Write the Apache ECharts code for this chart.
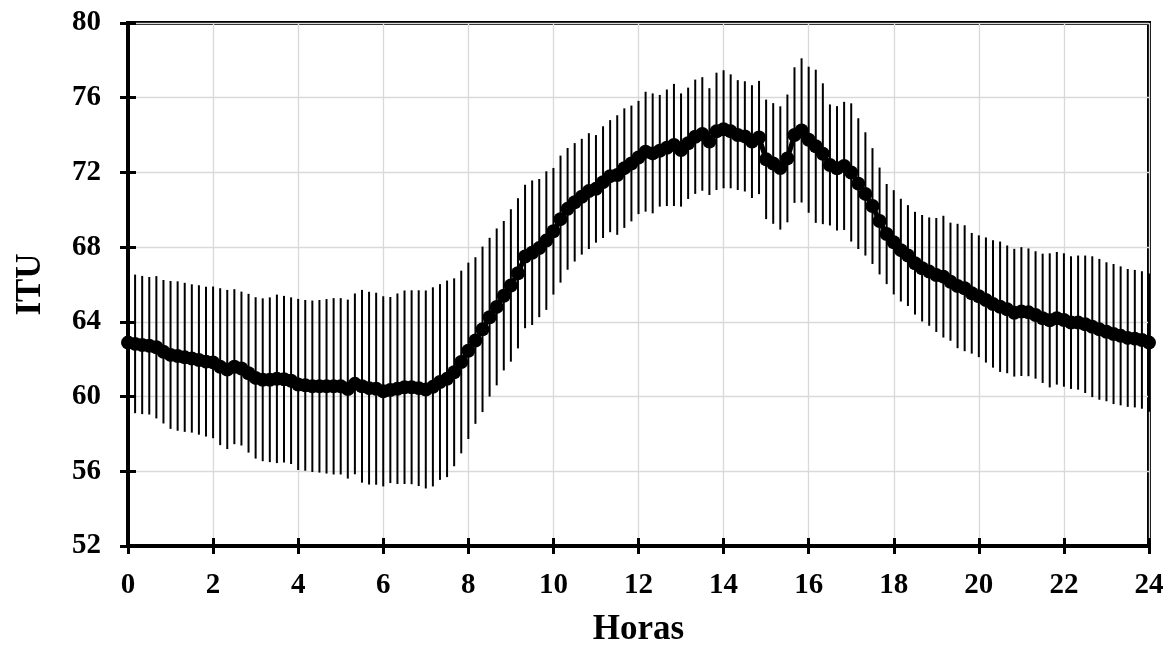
<!DOCTYPE html>
<html>
<head>
<meta charset="utf-8">
<script src="https://cdn.jsdelivr.net/npm/echarts@6/dist/echarts.min.js"></script>
<style>
html,body{margin:0;padding:0;background:#fff;}
#chart{width:1176px;height:655px;}
</style>
</head>
<body>
<div id="chart"></div>
<script>
// Hours (10-minute steps, 0..24)
const STEPS_PER_HOUR = 6;
const ituMean = [
62.89,62.82,62.76,62.72,62.64,62.40,62.23,62.17,62.10,62.04,
61.96,61.87,61.83,61.60,61.45,61.60,61.50,61.25,61.00,60.90,
60.90,60.95,60.93,60.85,60.65,60.60,60.55,60.55,60.55,60.55,
60.55,60.40,60.68,60.55,60.45,60.42,60.28,60.35,60.42,60.50,
60.50,60.45,60.38,60.52,60.78,60.95,61.30,61.85,62.45,63.00,
63.60,64.25,64.80,65.40,65.95,66.60,67.50,67.70,67.95,68.35,
68.85,69.50,70.05,70.40,70.70,71.00,71.12,71.48,71.80,71.86,
72.23,72.48,72.80,73.11,73.02,73.16,73.32,73.47,73.20,73.56,
73.91,74.06,73.65,74.20,74.31,74.20,74.00,73.93,73.65,73.87,
72.70,72.48,72.24,72.75,74.00,74.25,73.75,73.40,73.00,72.40,
72.22,72.35,72.00,71.40,70.85,70.20,69.40,68.70,68.26,67.84,
67.55,67.14,66.87,66.69,66.51,66.42,66.15,65.92,65.80,65.53,
65.37,65.17,64.96,64.81,64.67,64.49,64.55,64.51,64.37,64.19,
64.08,64.19,64.10,63.96,63.96,63.87,63.74,63.60,63.47,63.35,
63.25,63.14,63.10,63.03,62.89
];
const ituSd = [
3.70,3.71,3.70,3.68,3.81,3.84,3.96,4.00,3.99,3.97,
4.00,4.01,4.06,4.20,4.26,4.15,4.12,4.25,4.32,4.36,
4.41,4.51,4.46,4.46,4.58,4.57,4.59,4.62,4.67,4.72,
4.72,4.79,4.84,5.16,5.16,5.14,5.09,4.98,5.10,5.18,
5.19,5.24,5.30,5.33,5.24,5.26,5.03,4.89,4.72,4.46,
4.43,4.25,4.20,4.00,4.08,4.02,3.84,3.87,3.70,3.71,
3.39,3.40,3.26,3.17,3.10,3.10,2.88,2.99,3.00,3.20,
3.20,3.10,3.03,3.21,3.21,2.99,3.12,3.27,3.03,2.98,
3.06,3.04,2.86,3.14,3.16,3.05,2.94,2.95,3.02,3.03,
3.20,3.23,3.30,3.42,3.63,3.86,3.91,4.10,3.77,3.24,
3.33,3.43,3.70,3.50,3.30,3.10,2.86,2.68,2.79,2.75,
2.70,2.75,2.85,2.90,3.05,3.26,3.16,3.33,3.37,3.23,
3.26,3.35,3.41,3.49,3.42,3.42,3.45,3.42,3.41,3.46,
3.59,3.55,3.57,3.55,3.59,3.68,3.77,3.77,3.72,3.75,
3.72,3.69,3.68,3.68,3.70
];
const hours = ituMean.map((_, i) => i / STEPS_PER_HOUR);
const xTicks = { min: 0, max: 24, interval: 2 };
const yTicks = { min: 52, max: 80, interval: 4 };
const xTitle = 'Horas';
const yTitle = 'ITU';

const meanData = hours.map((h, i) => [h, ituMean[i]]);
const errData = hours.map((h, i) => [h, ituMean[i], ituSd[i]]);

const FONT = '"Liberation Serif","Times New Roman",serif';
const chart = echarts.init(document.getElementById('chart'), null, {renderer: 'canvas'});
const grid = {left: 128, right: 27, top: 23, bottom: 109, show: true, borderColor: '#000', borderWidth: 4, backgroundColor: 'transparent'};
const labelStyle = {color: '#000', fontFamily: FONT, fontWeight: 'bold', fontSize: 29};
const nameStyle = {color: '#000', fontFamily: FONT, fontWeight: 'bold', fontSize: 35};
chart.setOption({
  animation: false,
  backgroundColor: '#fff',
  grid: grid,
  xAxis: [{
    type: 'value', min: xTicks.min, max: xTicks.max, interval: xTicks.interval,
    name: xTitle, nameLocation: 'middle', nameGap: 66,
    nameTextStyle: nameStyle,
    axisLine: {show: true, onZero: false, lineStyle: {color: '#000', width: 4}},
    axisTick: {show: true, inside: false, length: 8, lineStyle: {color: '#000', width: 3}},
    axisLabel: Object.assign({margin: 25}, labelStyle),
    splitLine: {show: true, lineStyle: {color: '#d9d9d9', width: 1.3}}
  }, {
    type: 'value', min: xTicks.min, max: xTicks.max, interval: xTicks.interval, position: 'bottom',
    axisLine: {show: false}, axisLabel: {show: false}, splitLine: {show: false},
    axisTick: {show: true, inside: true, length: 8, lineStyle: {color: '#000', width: 3}}
  }],
  yAxis: [{
    type: 'value', min: yTicks.min, max: yTicks.max, interval: yTicks.interval,
    name: yTitle, nameLocation: 'middle', nameGap: 80,
    nameTextStyle: nameStyle,
    axisLine: {show: true, onZero: false, lineStyle: {color: '#000', width: 4}},
    axisTick: {show: true, inside: false, length: 8, lineStyle: {color: '#000', width: 3}},
    axisLabel: Object.assign({margin: 27}, labelStyle),
    splitLine: {show: true, lineStyle: {color: '#d9d9d9', width: 1.3}}
  }, {
    type: 'value', min: yTicks.min, max: yTicks.max, interval: yTicks.interval, position: 'left',
    axisLine: {show: false}, axisLabel: {show: false}, splitLine: {show: false},
    axisTick: {show: true, inside: true, length: 8, lineStyle: {color: '#000', width: 3}}
  }],
  series: [{
    type: 'custom',
    data: errData,
    z: 3,
    renderItem: function (params, api) {
      const x = api.value(0), m = api.value(1), s = api.value(2);
      const top = api.coord([x, m + s]);
      const bot = api.coord([x, m - s]);
      return {
        type: 'line',
        shape: {x1: top[0], y1: top[1], x2: bot[0], y2: bot[1]},
        style: {stroke: '#000', lineWidth: 2}
      };
    },
    encode: {x: 0, y: [1]}
  }, {
    type: 'line',
    data: meanData,
    z: 4,
    symbol: 'circle',
    symbolSize: 14,
    showAllSymbol: true,
    lineStyle: {color: '#000', width: 5},
    itemStyle: {color: '#000'}
  }]
});
</script>
</body>
</html>
